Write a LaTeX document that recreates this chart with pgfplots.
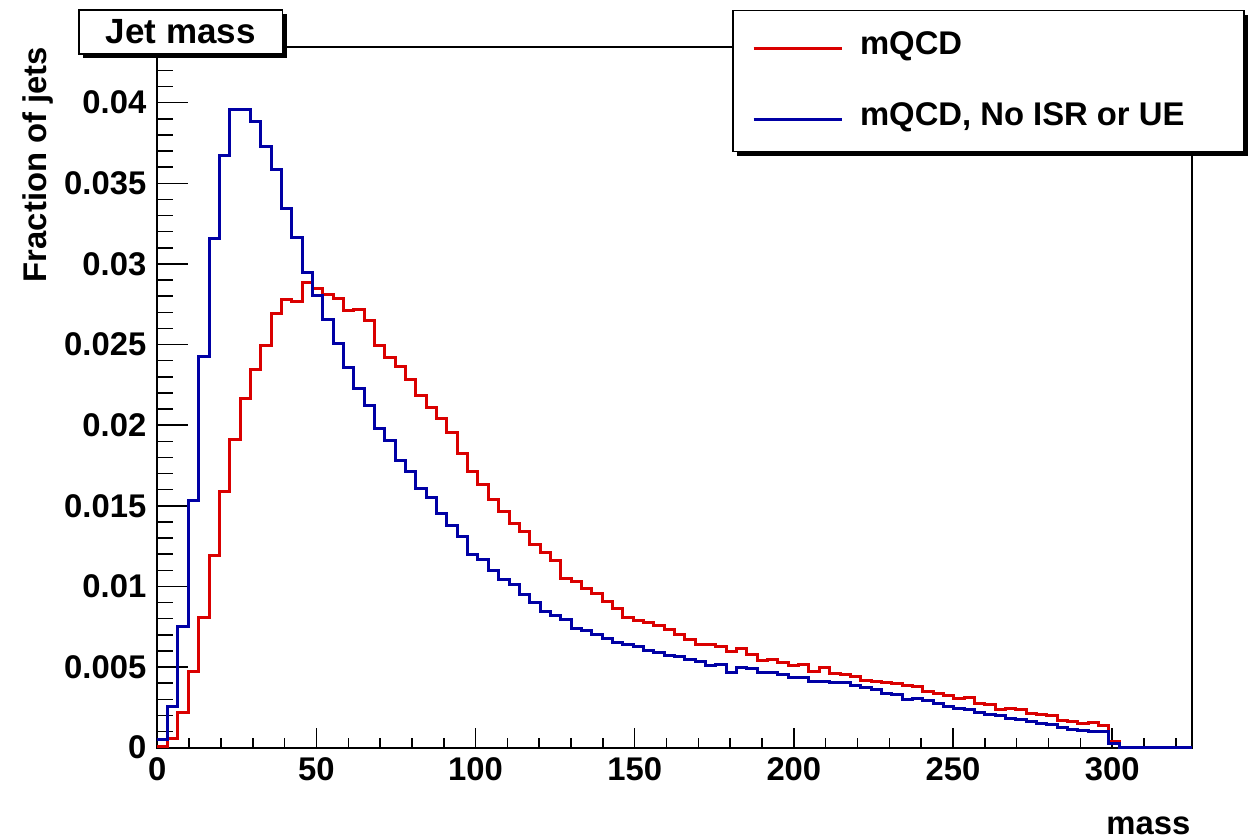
\documentclass[border=0pt]{standalone}
\usepackage{fontspec}
\setmainfont{Liberation Sans}
\usepackage{pgfplots}
\usepackage{pgfplotstable}
\pgfplotsset{compat=1.18}
\definecolor{rootred}{RGB}{218,0,0}
\definecolor{rootblue}{RGB}{0,0,165}
\newcommand{\tickfont}{\fontsize{16.4}{19}\selectfont\bfseries}
\pgfplotstableread{
i red blue
0 0.0001 0.0005
1 0.00054 0.00254
2 0.0022 0.0075
3 0.00471 0.01532
4 0.00806 0.02425
5 0.01191 0.03155
6 0.01588 0.03671
7 0.01912 0.03959
8 0.02163 0.03959
9 0.02347 0.03882
10 0.02497 0.03727
11 0.02694 0.03583
12 0.02777 0.03341
13 0.02764 0.03165
14 0.02886 0.02947
15 0.02845 0.02805
16 0.02812 0.02657
17 0.02787 0.02506
18 0.02712 0.02358
19 0.02719 0.02229
20 0.02652 0.02121
21 0.02493 0.01981
22 0.02419 0.01908
23 0.02363 0.01784
24 0.02285 0.01715
25 0.02184 0.01606
26 0.02112 0.0155
27 0.02042 0.01455
28 0.01956 0.01375
29 0.01826 0.01309
30 0.01715 0.01195
31 0.01631 0.0117
32 0.0154 0.01096
33 0.01462 0.01044
34 0.01392 0.01013
35 0.0134 0.00947
36 0.01257 0.00899
37 0.01209 0.00843
38 0.0116 0.00817
39 0.0105 0.00794
40 0.0103 0.0074
41 0.00985 0.00726
42 0.00955 0.00704
43 0.00908 0.00676
44 0.00864 0.00651
45 0.00809 0.00641
46 0.00786 0.00626
47 0.00775 0.00602
48 0.00755 0.00592
49 0.00734 0.00573
50 0.00699 0.00564
51 0.00668 0.00544
52 0.00643 0.00533
53 0.00641 0.00509
54 0.00626 0.00513
55 0.00595 0.00465
56 0.00614 0.00499
57 0.00575 0.00492
58 0.0054 0.00468
59 0.00548 0.00468
60 0.00527 0.00457
61 0.00507 0.00437
62 0.00513 0.00434
63 0.00471 0.00409
64 0.00499 0.00408
65 0.0046 0.00405
66 0.00454 0.00402
67 0.00441 0.00385
68 0.00416 0.00372
69 0.00409 0.00358
70 0.00407 0.00337
71 0.00395 0.00327
72 0.00387 0.003
73 0.00378 0.00302
74 0.00347 0.00292
75 0.00337 0.00271
76 0.00325 0.00254
77 0.00302 0.00244
78 0.0031 0.00234
79 0.00275 0.00217
80 0.00265 0.00207
81 0.00238 0.00197
82 0.00246 0.00182
83 0.00234 0.00176
84 0.00213 0.00161
85 0.00203 0.00151
86 0.00197 0.00141
87 0.00166 0.00126
88 0.00161 0.00114
89 0.00149 0.00105
90 0.00155 0.00099
91 0.00135 0.00099
92 0.00037 0.00027
93 0 0
94 0 0
95 0 0
96 0 0
97 0 0
98 0 0
99 0 0
100 0 0
}\histdata
\begin{document}
\begin{tikzpicture}
\path[use as bounding box] (0,0) rectangle (626pt,420pt);
% x ticks axis
\begin{axis}[
  at={(78.65pt,46.15pt)}, anchor=south west,
  scale only axis, width=517.2pt, height=350.5pt,
  xmin=0, xmax=325, ymin=0, ymax=0.04347,
  ytick=\empty,
  xtick={0,50,100,150,200,250,300},
  xticklabels={0,50,100,150,200,250,300},
  minor xtick={10,20,...,320},
  tick align=inside, tick pos=left,
  major tick length=9.7pt, minor tick length=4.7pt,
  every tick/.style={black, line width=0.75pt},
  axis line style={line width=1pt},
  xticklabel style={font=\tickfont, anchor=north, inner sep=0pt, yshift=-4.8pt},
]
\end{axis}
% main axis
\begin{axis}[
  at={(78.65pt,46.15pt)}, anchor=south west,
  scale only axis, width=517.2pt, height=350.5pt,
  xmin=0, xmax=325, ymin=0, ymax=0.04347,
  xtick=\empty,
  scaled y ticks=false,
  ytick={0,0.005,0.01,0.015,0.02,0.025,0.03,0.035,0.04},
  yticklabels={0,0.005,0.01,0.015,0.02,0.025,0.03,0.035,0.04},
  minor ytick={0.001,0.002,...,0.0435},
  tick align=inside, tick pos=left,
  major tick length=15.5pt, minor tick length=7.7pt,
  every tick/.style={black, line width=0.75pt},
  axis line style={line width=1pt},
  yticklabel style={font=\tickfont, anchor=east, inner sep=0pt, xshift=-5.3pt},
  clip=false,
  legend cell align=left,
  legend image code/.code={\draw[#1] (0pt,0pt) -- (44pt,0pt);},
  legend style={font=\tickfont, draw=none, fill=none, inner sep=0pt,
    row sep=26.74pt, column sep=8.5pt,
    nodes={inner sep=0pt, text height=0.75em, text depth=0.15em},
    at={(axis description cs:0.5746,1.0111)}, anchor=north west},
]
\addplot[const plot, rootred, line width=1.5pt] table[x expr=\thisrow{i}*3.25, y=red] {\histdata};
\addlegendentry{mQCD}
\addplot[const plot, rootblue, line width=1.5pt] table[x expr=\thisrow{i}*3.25, y=blue] {\histdata};
\addlegendentry{mQCD, No ISR or UE}
% title box
\fill[black, xshift=2pt, yshift=-2pt] (axis description cs:-0.0757,1.0524) rectangle (axis description cs:0.1212,0.9896);
\draw[line width=0.75pt, fill=white] (axis description cs:-0.0757,1.0524) rectangle (axis description cs:0.1212,0.9896);
\node[font=\fontsize{17.5}{20}\selectfont\bfseries, inner sep=0pt] at (axis description cs:0.0228,1.021) {Jet mass};
% legend box
\fill[black, xshift=2pt, yshift=-2pt] (axis description cs:0.5566,1.0514) rectangle (axis description cs:1.0506,0.8502);
\draw[line width=0.75pt, fill=white] (axis description cs:0.5566,1.0514) rectangle (axis description cs:1.0506,0.8502);
\end{axis}
\node[rotate=90, anchor=base east, inner sep=0pt, font=\tickfont] at (23.35pt,396.65pt) {Fraction of jets};
\node[anchor=base east, inner sep=0pt, font=\tickfont] at (595.35pt,2.5pt) {mass};
\end{tikzpicture}
\end{document}
